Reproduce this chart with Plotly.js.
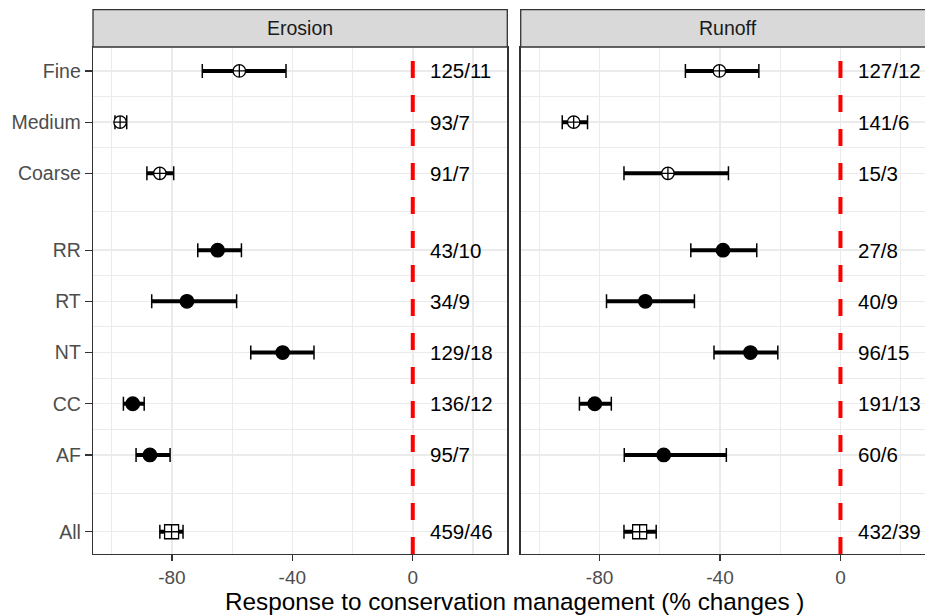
<!DOCTYPE html>
<html>
<head>
<meta charset="utf-8">
<script src="https://cdn.plot.ly/plotly-3.0.1.min.js"></script>
<style>
html, body { margin: 0; padding: 0; overflow: hidden; background: #ffffff; }
#chart { width: 940px; height: 616px; }
</style>
</head>
<body>
<div id="chart"></div>
<script>
// ---- data ----
const categories = ['Fine', 'Medium', 'Coarse', 'RR', 'RT', 'NT', 'CC', 'AF', 'All'];
const groups = ['texture', 'texture', 'texture', 'practice', 'practice', 'practice', 'practice', 'practice', 'overall'];

const erosionEst = [-57.6, -97.2, -84.0, -64.8, -75.0, -43.2, -93.0, -87.3, -80.1];
const erosionLo  = [-69.9, -98.9, -88.3, -71.4, -86.7, -53.8, -96.1, -91.9, -84.0];
const erosionHi  = [-42.1, -95.0, -79.4, -56.9, -58.5, -32.8, -89.2, -80.6, -76.3];
const erosionN   = ['125/11', '93/7', '91/7', '43/10', '34/9', '129/18', '136/12', '95/7', '459/46'];

const runoffEst = [-40.2, -88.6, -57.3, -39.0, -64.8, -29.9, -81.6, -58.7, -66.7];
const runoffLo  = [-51.5, -92.4, -71.9, -49.7, -77.7, -42.0, -86.7, -71.8, -71.9];
const runoffHi  = [-27.1, -84.0, -37.2, -27.8, -48.5, -20.8, -76.1, -37.9, -61.2];
const runoffN   = ['127/12', '141/6', '15/3', '27/8', '40/9', '96/15', '191/13', '60/6', '432/39'];

const facets = ['Erosion', 'Runoff'];
const xTicks = [-80, -40, 0];
const xTickText = ['-80', '-40', '0'];
const xMinor = [-100, -60, -20, 20];
const xTitle = 'Response to conservation management (% changes )';

// ---- derived positions (one unit per row, 1.5 between groups) ----
const ypos = [];
groups.forEach((g, i) => {
  if (i === 0) ypos.push(0);
  else ypos.push(ypos[i - 1] + (g === groups[i - 1] ? 1 : 1.5));
});
const yMinor = [];
for (let i = 1; i < ypos.length; i++) yMinor.push((ypos[i] + ypos[i - 1]) / 2);

const symbolMap = { texture: 'circle-cross', practice: 'circle', overall: 'square-cross' };
const colorMap = { texture: '#ffffff', practice: '#000000', overall: '#ffffff' };
const sizeMap = { texture: 12.5, practice: 13.5, overall: 14 };

const FONT = '"Liberation Sans", Arial, sans-serif';
const BORDER = '#333333';
const GRID = '#EBEBEB';

const sets = [
  { est: erosionEst, lo: erosionLo, hi: erosionHi, n: erosionN, xa: 'x', ya: 'y' },
  { est: runoffEst, lo: runoffLo, hi: runoffHi, n: runoffN, xa: 'x2', ya: 'y2' }
];

const traces = [];
const annotations = [];
sets.forEach(s => {
  // thick CI segment
  const lx = [], ly = [];
  s.lo.forEach((v, i) => { lx.push(v, s.hi[i], null); ly.push(ypos[i], ypos[i], null); });
  traces.push({
    type: 'scatter', mode: 'lines', x: lx, y: ly, xaxis: s.xa, yaxis: s.ya,
    line: { color: '#000000', width: 4 }, hoverinfo: 'skip', showlegend: false
  });
  // points with thin caps
  traces.push({
    type: 'scatter', mode: 'markers', x: s.est, y: ypos, xaxis: s.xa, yaxis: s.ya,
    error_x: {
      type: 'data', symmetric: false,
      array: s.hi.map((h, i) => h - s.est[i]),
      arrayminus: s.lo.map((l, i) => s.est[i] - l),
      color: '#000000', thickness: 1.5, width: 7
    },
    marker: {
      symbol: groups.map(g => symbolMap[g]),
      color: groups.map(g => colorMap[g]),
      size: groups.map(g => sizeMap[g]),
      opacity: 1,
      line: { color: '#000000', width: 1.3 }
    },
    showlegend: false
  });
  // n/m labels
  s.n.forEach((t, i) => {
    annotations.push({
      xref: s.xa, yref: s.ya, x: 5, y: ypos[i], text: t, showarrow: false,
      xanchor: 'left', yanchor: 'middle', font: { family: FONT, size: 20.5, color: '#000000' }
    });
  });
});

// strip labels
const stripH = 37.4 / 507.6;
const shapes = [];
facets.forEach((f, k) => {
  const xr = k === 0 ? 'x domain' : 'x2 domain';
  shapes.push({
    type: 'rect', xref: xr, yref: 'paper', x0: 0, x1: 1, y0: 1, y1: 1 + stripH,
    fillcolor: '#D9D9D9', line: { color: BORDER, width: 1.3 }, layer: 'above'
  });
  annotations.push({
    xref: xr, yref: 'paper', x: 0.5, y: 1 + stripH / 2, text: f, showarrow: false,
    xanchor: 'center', yanchor: 'middle', font: { family: FONT, size: 19.5, color: '#1A1A1A' }
  });
  shapes.push({
    type: 'line', xref: k === 0 ? 'x' : 'x2', yref: k === 0 ? 'y domain' : 'y2 domain',
    x0: 0, x1: 0, y0: 0, y1: 1, line: { color: '#FF0000', width: 4, dash: '17px,17px' }, layer: 'above'
  });
});

annotations.push({
  xref: 'paper', yref: 'paper', x: 0.5, y: -47.7 / 507.6, text: xTitle, showarrow: false,
  xanchor: 'center', yanchor: 'middle', font: { family: FONT, size: 24.3, color: '#000000' }
});

const xRange = [-106.2, 31.4];
const yRange = [ypos[ypos.length - 1] + 0.435, -0.468];

function xaxis(domain, anchor) {
  return {
    domain: domain, anchor: anchor, range: xRange, autorange: false,
    tickmode: 'array', tickvals: xTicks, ticktext: xTickText,
    ticks: 'outside', ticklen: 6, tickwidth: 1.3, tickcolor: BORDER,
    tickfont: { family: FONT, size: 19, color: '#4D4D4D' },
    showgrid: true, gridcolor: GRID, gridwidth: 1.5,
    minor: { tickmode: 'array', tickvals: xMinor, showgrid: true, gridcolor: GRID, gridwidth: 1.1, ticks: '' },
    showline: true, mirror: true, linecolor: BORDER, linewidth: 1.3,
    zeroline: false, fixedrange: true
  };
}
function yaxis(anchor, labels) {
  return {
    anchor: anchor, domain: [0, 1], range: yRange, autorange: false,
    tickmode: 'array', tickvals: ypos, ticktext: categories,
    showticklabels: labels,
    ticks: labels ? 'outside' : '', ticklen: 7, tickwidth: 1.3, tickcolor: BORDER,
    tickfont: { family: FONT, size: 19.5, color: '#4D4D4D' },
    showgrid: true, gridcolor: GRID, gridwidth: 1.5,
    minor: { tickmode: 'array', tickvals: yMinor, showgrid: true, gridcolor: GRID, gridwidth: 1.1, ticks: '' },
    showline: true, mirror: true, linecolor: BORDER, linewidth: 1.3,
    zeroline: false, fixedrange: true
  };
}

const total = 842.6;
const layout = {
  width: 940, height: 616,
  margin: { l: 92.7, r: 4.7, t: 46.7, b: 61.7, pad: 0 },
  paper_bgcolor: '#ffffff', plot_bgcolor: '#ffffff',
  font: { family: FONT, color: '#000000' },
  xaxis: xaxis([0, 414.6 / total], 'y'),
  xaxis2: xaxis([428 / total, 1], 'y2'),
  yaxis: yaxis('x', true),
  yaxis2: yaxis('x2', false),
  shapes: shapes,
  annotations: annotations,
  showlegend: false
};

Plotly.newPlot('chart', traces, layout, { displayModeBar: false, staticPlot: true });
</script>
</body>
</html>
